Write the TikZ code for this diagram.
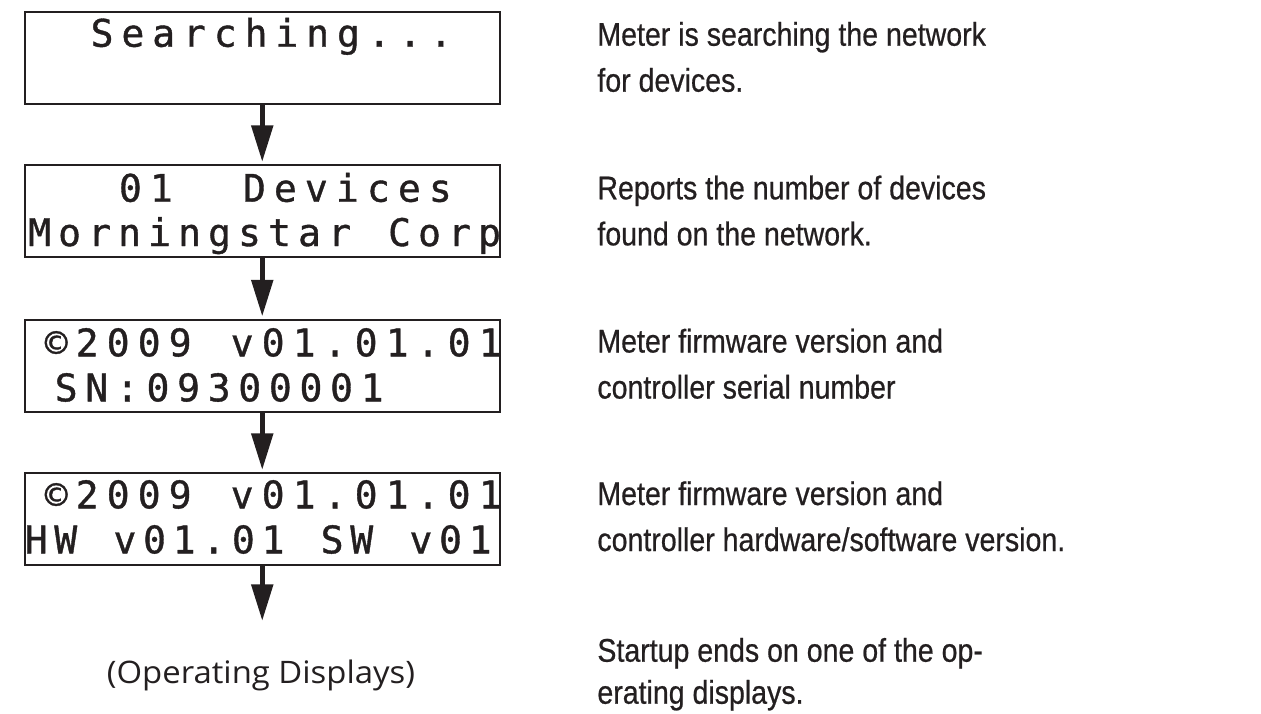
\documentclass[tikz,border=0pt]{standalone}
\usepackage{fontspec}
\usetikzlibrary{arrows.meta}

\newfontfamily\lcdfont[FakeBold=1]{DejaVu Sans Mono}
\newfontfamily\notefont[FakeStretch=0.87,FakeBold=0.6]{Liberation Sans}
\newfontfamily\endfont[FakeStretch=1.06]{Open Sans}
\definecolor{ink}{RGB}{35,31,32}

% one LCD character per fixed-width cell, ~ is a blank cell
\ExplSyntaxOn
\NewDocumentCommand \lcd { O{15.4pt} m }
  { \tl_map_inline:nn {#2} { \makebox[#1]{##1} } }
\ExplSyntaxOff

\tikzset{
  lcdbox/.style={draw=ink, line width=1pt, minimum width=237.75pt, minimum height=46pt, inner sep=0pt},
  lcdrow/.style={inner sep=0pt, anchor=base west, text=ink, font=\lcdfont\fontsize{19pt}{22pt}\selectfont},
  note/.style={inner sep=0pt, anchor=base west, text=ink, font=\notefont\fontsize{16.4pt}{23pt}\selectfont},
  flow/.style={draw=ink, line width=2.6pt, -{Triangle[length=18.3pt,width=10.5pt]}, shorten >=1pt}
}

\begin{document}
\begin{tikzpicture}[x=0.5pt, y=-0.5pt]
    \useasboundingbox (0,0) rectangle (1261,713);

    % the four displays
    \node[lcdbox] (search) at (262.25,57.5) {};
    \node[lcdbox] (count) at (262.25,211) {};
    \node[lcdbox] (serial) at (262.25,365.5) {};
    \node[lcdbox] (hwsw) at (262.25,519) {};

    \node[lcdrow] (searchtop) at (86.3,46.7) {\lcd[15.4pt]{Searching...}};
    \node[lcdrow] (counttop) at (114.5,201.7) {\lcd[15.5pt]{01~~Devices}};
    \node[lcdrow] (countbot) at (24.2,246) {\lcd[15pt]{Morningstar~Corp}};
    \node[lcdrow] (serialtop) at (40.3,356.3) {\lcd[15.5pt]{©2009~v01.01.01}};
    \node[lcdrow] (serialbot) at (50.5,401.3) {\lcd[15.3pt]{SN:09300001}};
    \node[lcdrow] (hwswtop) at (40.3,508.3) {\lcd[15.5pt]{©2009~v01.01.01}};
    \node[lcdrow] (hwswbot) at (21,553.3) {\lcd[14.8pt]{HW~v01.01~SW~v01}};

    \coordinate (opend) at (262.25,623);
    \node[inner sep=0pt, anchor=base, text=ink, font=\endfont\fontsize{15.5pt}{18pt}\selectfont]
        (opdisp) at (261,683) {(Operating Displays)};

    \draw[flow] (search) -- (count);
    \draw[flow] (count) -- (serial);
    \draw[flow] (serial) -- (hwsw);
    \draw[flow] (hwsw) -- (opend);

    % notes on the right
    \node[note] (searchnote) at (597,45.7)
        {\begin{tabular}[t]{@{}l@{}}Meter is searching the network\\for devices.\end{tabular}};
    \node[note] (countnote) at (597,199.3)
        {\begin{tabular}[t]{@{}l@{}}Reports the number of devices\\found on the network.\end{tabular}};
    \node[note] (serialnote) at (597,352.5)
        {\begin{tabular}[t]{@{}l@{}}Meter firmware version and\\controller serial number\end{tabular}};
    \node[note] (hwswnote) at (597,505)
        {\begin{tabular}[t]{@{}l@{}}Meter firmware version and\\controller hardware/software version.\end{tabular}};
    \node[note, font=\notefont\fontsize{16.4pt}{21pt}\selectfont] (endnote) at (597,661.7)
        {\begin{tabular}[t]{@{}l@{}}Startup ends on one of the op-\\erating displays.\end{tabular}};
\end{tikzpicture}
\end{document}
